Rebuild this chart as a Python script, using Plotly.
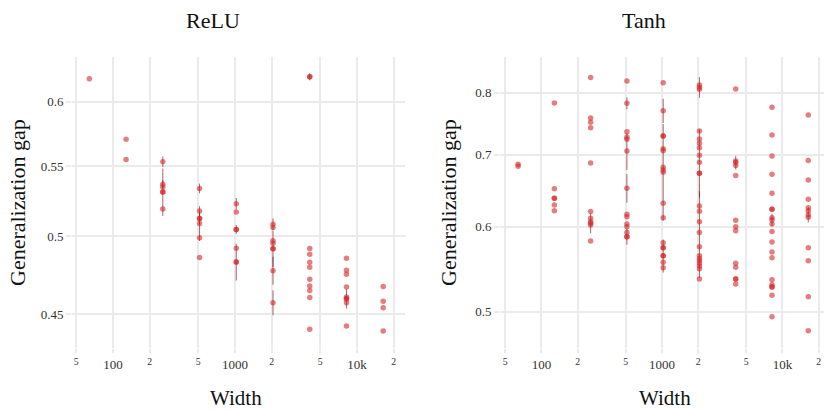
import plotly.graph_objects as go

# ---------------- data ----------------
widths = [64, 128, 256, 512, 1024, 2048, 4096, 8192, 16384]

relu_gaps = [
    [0.619],
    [0.5704, 0.555],
    [0.5532, 0.5366, 0.5347, 0.5311, 0.5311, 0.5190],
    [0.5336, 0.5176, 0.5124, 0.5124, 0.5089, 0.4992, 0.4860],
    [0.5227, 0.5169, 0.5048, 0.5048, 0.4921, 0.4831, 0.4831],
    [0.5083, 0.5062, 0.4972, 0.4954, 0.4918, 0.4918, 0.4774, 0.4571],
    [0.6207, 0.6207, 0.4920, 0.4881, 0.4828, 0.4796, 0.4718, 0.4676, 0.4648, 0.4604, 0.4410],
    [0.4855, 0.4776, 0.4751, 0.4670, 0.4607, 0.4595, 0.4595, 0.4571, 0.4430],
    [0.4672, 0.4581, 0.4540, 0.4400],
]
relu_errs = [
    [0],
    [0, 0],
    [0.004, 0.003, 0, 0.017, 0, 0],
    [0.0035, 0, 0.004, 0, 0.012, 0, 0],
    [0.004, 0, 0.003, 0, 0, 0.012, 0],
    [0.004, 0, 0, 0, 0.012, 0, 0.009, 0.0077],
    [0.003, 0, 0, 0, 0, 0, 0, 0, 0, 0, 0],
    [0, 0, 0, 0, 0, 0.006, 0, 0, 0],
    [0, 0, 0, 0],
]

tanh_gaps = [
    [0.6862, 0.6832],
    [0.7825, 0.6509, 0.6379, 0.6379, 0.6287, 0.6211],
    [0.8267, 0.7577, 0.7507, 0.7421, 0.6880, 0.6198, 0.6109, 0.6066, 0.6045, 0.6023, 0.5818],
    [0.8204, 0.7820, 0.7358, 0.7269, 0.7239, 0.7060, 0.6518, 0.6163, 0.6131, 0.6035, 0.6001,
     0.5925, 0.5874, 0.5874],
    [0.8174, 0.7697, 0.7290, 0.7290, 0.7094, 0.7063, 0.6818, 0.6779, 0.6745, 0.6310, 0.6118,
     0.5797, 0.5735, 0.5735, 0.5638, 0.5638, 0.5559, 0.5495],
    [0.8133, 0.8093, 0.8059, 0.7368, 0.7244, 0.7176, 0.7109, 0.6994, 0.6891, 0.6730, 0.6730,
     0.6274, 0.6202, 0.6066, 0.5925, 0.5749, 0.5638, 0.5606, 0.5578, 0.5547, 0.5515, 0.5483,
     0.5363],
    [0.8063, 0.6910, 0.6886, 0.6842, 0.6696, 0.6084, 0.6001, 0.5947, 0.5547, 0.5499, 0.5363,
     0.5363, 0.5305],
    [0.7754, 0.7306, 0.6984, 0.6714, 0.6447, 0.6229, 0.6229, 0.6118, 0.6088, 0.6035, 0.5939,
     0.5807, 0.5682, 0.5613, 0.5355, 0.5297, 0.5272, 0.5272, 0.5180, 0.4946],
    [0.7628, 0.6915, 0.6635, 0.6365, 0.6251, 0.6211, 0.6157, 0.6124, 0.5735, 0.5578, 0.5164,
     0.4800],
]
tanh_errs = [
    [0, 0],
    [0, 0, 0, 0, 0, 0],
    [0, 0, 0, 0, 0, 0, 0, 0, 0.013, 0, 0],
    [0, 0.01, 0, 0, 0, 0.028, 0.02, 0, 0, 0, 0, 0, 0.01, 0],
    [0, 0.02, 0, 0, 0, 0, 0, 0.07, 0, 0, 0, 0, 0, 0, 0.02, 0, 0, 0],
    [0, 0.018, 0, 0, 0, 0, 0, 0, 0.05, 0, 0, 0, 0, 0, 0.055, 0, 0, 0, 0, 0, 0, 0, 0],
    [0, 0, 0.01, 0, 0, 0, 0, 0, 0, 0, 0, 0, 0],
    [0, 0, 0, 0, 0, 0, 0, 0, 0.008, 0, 0, 0, 0, 0, 0, 0, 0, 0, 0, 0],
    [0, 0, 0, 0, 0, 0, 0.01, 0, 0, 0, 0, 0],
]

relu_ticks = [0.45, 0.5, 0.55, 0.6]
relu_ticktext = ["0.45", "0.5", "0.55", "0.6"]
tanh_ticks = [0.5, 0.6, 0.7, 0.8]
tanh_ticktext = ["0.5", "0.6", "0.7", "0.8"]
titles = ["ReLU", "Tanh"]
x_title = "Width"
y_title = "Generalization gap"

# ---------------- figure ----------------
W, H = 824, 411
FONT = "Liberation Serif"
GRID = "#ebebeb"
MARK = "rgba(214,39,40,0.6)"
ERRC = "rgba(110,0,0,0.6)"


def flatten(gaps, errs):
    xs, ys, es = [], [], []
    for w, g, e in zip(widths, gaps, errs):
        for gi, ei in zip(g, e):
            xs.append(w)
            ys.append(gi)
            es.append(ei)
    return xs, ys, es


fig = go.Figure()
for k, (gaps, errs) in enumerate([(relu_gaps, relu_errs), (tanh_gaps, tanh_errs)]):
    xs, ys, es = flatten(gaps, errs)
    fig.add_trace(go.Scatter(
        x=xs, y=ys, mode="markers",
        marker=dict(color=MARK, size=5.5, line=dict(width=0)),
        error_y=dict(type="data", array=es, visible=True, color=ERRC,
                     thickness=1, width=0),
        xaxis="x" if k == 0 else "x2", yaxis="y" if k == 0 else "y2",
        showlegend=False, hoverinfo="x+y",
    ))

ydom = [(H - 348) / H, (H - 57) / H]
common_x = dict(type="log", dtick="D2", showgrid=True, gridcolor=GRID, gridwidth=1.5,
                zeroline=False, showline=False, ticks="outside", ticklen=4,
                tickcolor=GRID, tickwidth=1.5, ticklabeloverflow="allow",
                tickfont=dict(family=FONT, size=13, color="#333333"))
common_y = dict(type="log", showgrid=True, gridcolor=GRID, gridwidth=1.5,
                zeroline=False, showline=False, ticks="outside", ticklen=5,
                tickcolor=GRID, tickwidth=1.5,
                tickfont=dict(family=FONT, size=13, color="#333333"))

fig.update_layout(
    width=W, height=H,
    margin=dict(l=0, r=0, t=0, b=0),
    paper_bgcolor="white", plot_bgcolor="white",
    xaxis=dict(domain=[72 / W, 405 / W], range=[1.664, 4.393], anchor="y", **common_x),
    yaxis=dict(domain=ydom, range=[-0.3666, -0.1955], anchor="x",
               tickvals=relu_ticks, ticktext=relu_ticktext, **common_y),
    xaxis2=dict(domain=[500 / W, 1.0], range=[1.656, 4.345], anchor="y2", **common_x),
    yaxis2=dict(domain=ydom, range=[-0.3349, -0.0636], anchor="x2",
                tickvals=tanh_ticks, ticktext=tanh_ticktext, **common_y),
)

ann = []
for cx, t in zip([213, 644], titles):
    ann.append(dict(x=cx / W, y=1 - 20 / H, xref="paper", yref="paper", text=t,
                    showarrow=False, xanchor="center", yanchor="middle",
                    font=dict(family=FONT, size=22, color="#111111")))
for cx in [236, 665]:
    ann.append(dict(x=cx / W, y=1 - 398 / H, xref="paper", yref="paper", text=x_title,
                    showarrow=False, xanchor="center", yanchor="middle",
                    font=dict(family=FONT, size=21, color="#111111")))
for cx in [18, 449]:
    ann.append(dict(x=cx / W, y=1 - 203 / H, xref="paper", yref="paper", text=y_title,
                    showarrow=False, xanchor="center", yanchor="middle", textangle=-90,
                    font=dict(family=FONT, size=22, color="#111111")))
fig.update_layout(annotations=ann)

fig.write_html("out.html", config={"displayModeBar": False},
               post_script="document.body.style.margin='0';document.body.style.overflow='hidden';")
